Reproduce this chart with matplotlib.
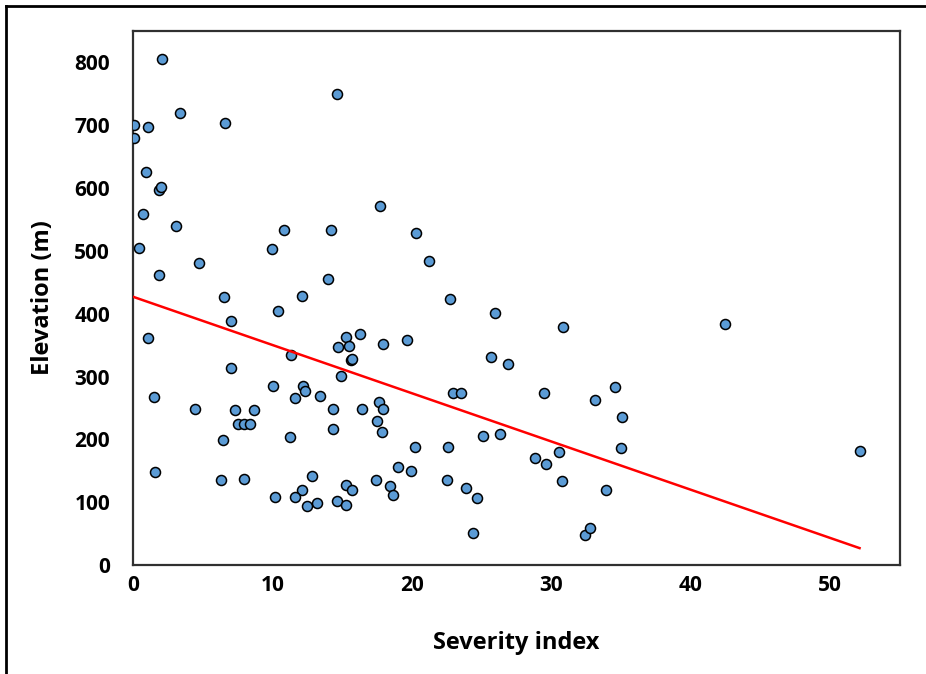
import numpy as np
import matplotlib
matplotlib.use('Agg')
from matplotlib import pyplot as plt
from matplotlib.lines import Line2D

# Severity index vs elevation
severity = [0.1, 1.1, 0.1, 0.95, 1.85, 2.0, 0.75, 0.45, 3.1, 4.7,
            1.85, 2.05, 3.4, 6.6, 6.5, 7.05, 1.05, 7.05, 1.5, 4.45,
            7.3, 8.65, 7.55, 7.95, 8.4, 6.45, 1.6, 6.3, 7.95, 10.0,
            10.85, 10.4, 12.1, 14.0, 14.2, 14.6, 17.7, 20.3, 21.2, 22.75,
            25.95, 30.8, 42.45, 11.3, 14.7, 15.25, 15.5, 16.3, 15.6, 15.7,
            17.9, 19.65, 14.9, 10.05, 12.2, 12.3, 11.65, 13.4, 14.35, 16.45,
            17.65, 17.95, 17.5, 17.85, 14.35, 11.25, 20.25, 22.6, 25.1, 26.3,
            25.65, 26.9, 22.95, 23.5, 29.45, 33.1, 34.55, 35.1, 35.0, 30.55,
            28.85, 29.6, 19.0, 19.9, 30.75, 22.55, 17.45, 15.3, 15.7, 12.1,
            12.85, 18.4, 18.65, 10.2, 11.65, 12.45, 13.2, 14.6, 15.3, 23.9,
            24.65, 33.9, 24.4, 32.4, 32.8, 52.1]
elevation = [701, 697, 679, 625, 597, 602, 558, 505, 539, 481,
             461, 806, 720, 704, 426, 388, 362, 313, 268, 248,
             246, 246, 225, 225, 225, 199, 148, 136, 137, 503,
             533, 404, 428, 456, 534, 750, 572, 529, 484, 423,
             401, 379, 384, 335, 347, 363, 349, 368, 326, 328,
             351, 358, 301, 285, 285, 277, 266, 269, 249, 249,
             260, 248, 230, 211, 216, 203, 188, 188, 205, 209,
             331, 320, 273, 273, 274, 263, 284, 235, 186, 180,
             170, 161, 156, 150, 133, 135, 135, 127, 119, 120,
             141, 125, 111, 108, 108, 94, 99, 102, 95, 122,
             106, 119, 51, 48, 59, 181]

# linear trend line as shown on the chart
trend_intercept = 427
trend_slope = -7.68

x_ticks = [0, 10, 20, 30, 40, 50]
y_ticks = [0, 100, 200, 300, 400, 500, 600, 700, 800]

plt.rcParams['font.family'] = ['Open Sans', 'DejaVu Sans']

fig = plt.figure(figsize=(9.26, 6.74), dpi=100)
ax = fig.add_axes([133/926, 109/674, 767/926, 534/674])

ax.scatter(severity, elevation, s=52, c='#5B9BD5', edgecolors='black',
           linewidths=1.1, zorder=3)

xs = np.array([0, max(severity)])
ax.plot(xs, trend_intercept + trend_slope*xs, color='red', lw=1.8, zorder=4)

ax.set_xlim(0, 55)
ax.set_ylim(0, 850)
ax.set_xticks(x_ticks)
ax.set_yticks(y_ticks)
ax.tick_params(length=0, labelsize=15)
ax.tick_params(axis='x', pad=7.5)
ax.tick_params(axis='y', pad=16.5)
for lab in ax.get_xticklabels() + ax.get_yticklabels():
  lab.set_fontweight('bold')

for sp in ax.spines.values():
  sp.set_color('#303030')
  sp.set_linewidth(1.6)

ax.set_xlabel('Severity index', fontsize=17, fontweight='bold', labelpad=25)
ax.set_ylabel('Elevation (m)', fontsize=17, fontweight='bold', labelpad=14)

# outer frame (top and left edges visible)
fig.add_artist(Line2D([6/926, 1], [1 - 6/674, 1 - 6/674], color='black', lw=2, transform=fig.transFigure))
fig.add_artist(Line2D([6/926, 6/926], [0, 1 - 6/674], color='black', lw=2, transform=fig.transFigure))

plt.savefig('out.png', dpi=100)
